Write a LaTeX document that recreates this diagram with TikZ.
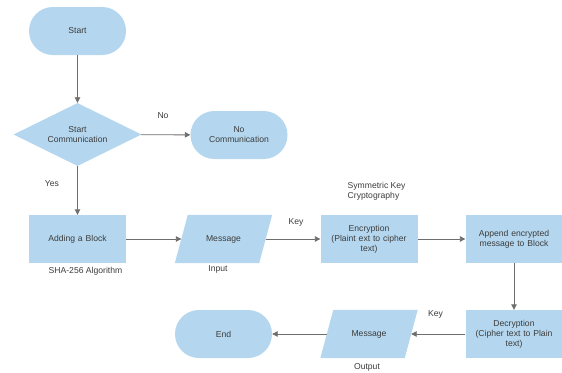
\documentclass[tikz,border=0pt]{standalone}
\usepackage{fontspec}
\setmainfont{Liberation Sans}
\usetikzlibrary{arrows.meta,shapes.geometric}
\definecolor{boxfill}{RGB}{180,215,239}
\definecolor{linegray}{RGB}{110,110,110}
\definecolor{txtgray}{RGB}{60,60,60}
\begin{document}
\begin{tikzpicture}[x=1pt,y=-1pt,
  every node/.style={text=txtgray,font=\fontsize{8.6}{10}\selectfont},
  term/.style={fill=boxfill,rounded corners=23.9pt,minimum width=97pt,minimum height=48pt,inner sep=0pt,align=center},
  procbox/.style={fill=boxfill,minimum width=97pt,minimum height=48pt,inner sep=1pt,align=center,text width=90pt},
  decis/.style={diamond,fill=boxfill,minimum width=128pt,minimum height=63pt,inner sep=0pt,aspect=2,align=center},
  iobox/.style={minimum width=84pt,minimum height=48pt,inner sep=0pt},
  lbl/.style={inner sep=0pt,align=center},
  conn/.style={draw=linegray,line width=0.9pt,-{Triangle[width=5.5pt,length=5.5pt]}}]
\useasboundingbox (0,0) rectangle (562,372);
% nodes
\node[term] (start) at (77.5,31) {Start};
\node[decis] (dec) at (77.5,134.5) {Start\\Communication};
\node[term] (nocom) at (239,135) {No\\Communication};
\node[procbox] (add) at (77.5,239) {Adding a Block};
\node[iobox] (msg1) at (223.5,239) {};
\fill[boxfill] ([xshift=6.5pt]msg1.north west) -- ([xshift=6.5pt]msg1.north east) -- ([xshift=-6.5pt]msg1.south east) -- ([xshift=-6.5pt]msg1.south west) -- cycle;
\node at (msg1) {Message};
\node[procbox] (enc) at (369,239) {Encryption\\(Plaint ext to cipher\\text)};
\node[procbox] (app) at (514,239) {Append encrypted\\message to Block};
\node[procbox] (decr) at (514,334) {Decryption\\(Cipher text to Plain\\text)};
\node[iobox] (msg2) at (369,334) {};
\fill[boxfill] ([xshift=6.5pt]msg2.north west) -- ([xshift=6.5pt]msg2.north east) -- ([xshift=-6.5pt]msg2.south east) -- ([xshift=-6.5pt]msg2.south west) -- cycle;
\node at (msg2) {Message};
\node[term] (endn) at (223.5,334) {End};
% labels
\node[lbl] (lno) at (163,116) {No};
\node[lbl] (lyes) at (52,184) {Yes};
\node[lbl] (lsha) at (85.5,271) {SHA-256 Algorithm};
\node[lbl] (linput) at (218,269.5) {Input};
\node[lbl] (lkey1) at (296,222) {Key};
\node[lbl,align=left,anchor=west] (lsym) at (347.5,191) {Symmetric Key\\Cryptography};
\node[lbl] (lkey2) at (435.5,314) {Key};
\node[lbl] (lout) at (367,367) {Output};
% connectors
\draw[conn] (start) -- (dec);
\draw[conn] (dec) -- (nocom);
\draw[conn] (dec) -- (add);
\draw[conn] (add) -- (msg1);
\draw[conn] (msg1) -- (enc);
\draw[conn] (enc) -- (app);
\draw[conn] (app) -- (decr);
\draw[conn] (decr) -- (msg2);
\draw[conn] (msg2) -- (endn);
\end{tikzpicture}
\end{document}
